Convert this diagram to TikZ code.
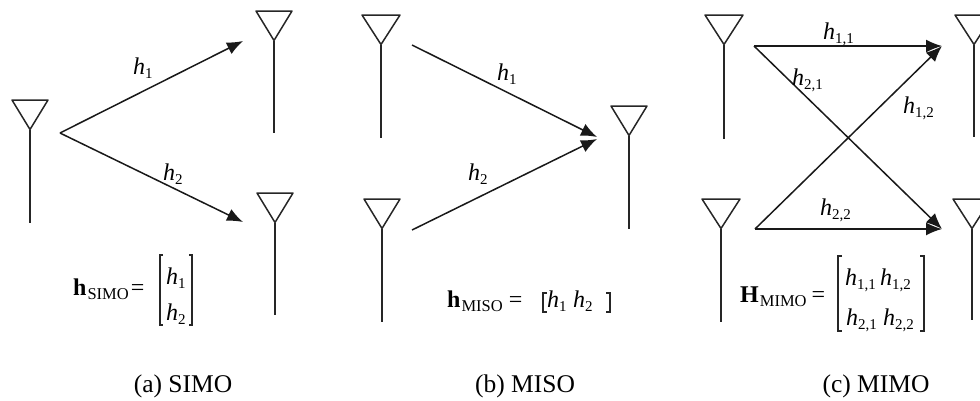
\documentclass[tikz,border=0pt]{standalone}
\usepackage{fontspec}
\setmainfont{Liberation Serif}
\usetikzlibrary{arrows.meta}
\newcommand{\ant}[5]{% name, left x, right x, top y, foot y
  \coordinate (#1l) at (#2,#4);
  \coordinate (#1r) at (#3,#4);
  \coordinate (#1a) at ({(#2+#3)/2},#4+29.5);
  \coordinate (#1f) at ({(#2+#3)/2},#5);
  \draw[antline] (#1l) -- (#1r) -- (#1a) -- cycle;
  \draw[antline] (#1a) -- (#1f);
}
\newcommand{\hh}[1]{\textit{h}\raisebox{-4pt}{\fontsize{15}{15}\selectfont #1}}
\newcommand{\subs}[1]{\raisebox{-4.5pt}{\fontsize{16.5}{16.5}\selectfont #1}}
\tikzset{
  x=1pt,y=-1pt,
  antline/.style={draw=black!85,line width=1.5pt,line join=round},
  link/.style={draw=black!90,line width=1.5pt,-{Latex[length=16pt,width=13pt]}},
  lab/.style={font=\fontsize{24}{24}\selectfont,inner sep=0pt,anchor=base west},
  captext/.style={font=\fontsize{25.5}{25.5}\selectfont,inner sep=0pt,anchor=base},
  brk/.style={draw=black!85,line width=1.1pt}
}
\begin{document}
\begin{tikzpicture}
\useasboundingbox (0,0) rectangle (980,400);
\ant{A}{12}{48}{100}{223}
\ant{B}{256}{292}{11}{133}
\ant{C}{257}{293}{193}{315}
\ant{D}{362}{400}{15}{138}
\ant{E}{364}{400}{199}{322}
\ant{F}{611}{647}{106}{229}
\ant{G}{705}{743}{15}{139}
\ant{H}{702}{740}{199}{322}
\ant{I}{955}{993}{15}{137}
\ant{J}{953}{991}{199}{320}
% SIMO
\coordinate (s0) at (60,133);
\coordinate (s1) at (243,41);
\coordinate (s2) at (243,222);
\draw[link] (s0) -- (s1);
\draw[link] (s0) -- (s2);
\node[lab] (sh1) at (133,74) {\hh{1}};
\node[lab] (sh2) at (163,180) {\hh{2}};
\node[lab] (seq) at (73,295) {\textbf{h}\kern1pt\subs{SIMO}\kern2pt=};
\node[lab] (sm1) at (166,284) {\hh{1}};
\node[lab] (sm2) at (166,320) {\hh{2}};
\draw[brk] (163,255) -- (160,255) -- (160,325) -- (163,325);
\draw[brk] (189,255) -- (192,255) -- (192,325) -- (189,325);
\node[captext] (sc) at (183,392) {(a) SIMO};
% MISO
\coordinate (m1) at (412,45);
\coordinate (m2) at (412,230);
\coordinate (mt1) at (597,137);
\coordinate (mt2) at (597,139);
\draw[link] (m1) -- (mt1);
\draw[link] (m2) -- (mt2);
\node[lab] (mh1) at (497,80) {\hh{1}};
\node[lab] (mh2) at (468,180) {\hh{2}};
\node[lab] (meq) at (447,307) {\textbf{h}\kern1pt\subs{MISO}\kern6pt=};
\node[lab] (mm1) at (547,307) {\hh{1}};
\node[lab] (mm2) at (573,307) {\hh{2}};
\draw[brk] (547,293) -- (543,293) -- (543,312) -- (547,312);
\draw[brk] (606,293) -- (610,293) -- (610,312) -- (606,312);
\node[captext] (mc) at (525,392) {(b) MISO};
% MIMO
\coordinate (x1) at (754,46);
\coordinate (x2) at (755,229);
\coordinate (xt1) at (942,46);
\coordinate (xt2) at (942,229);
\draw[link] (x1) -- (xt1);
\draw[link] (x1) -- (xt2);
\draw[link] (x2) -- (xt2);
\draw[link] (x2) -- (xt1);
\node[lab] (xh11) at (823,39) {\hh{1,1}};
\node[lab] (xh21) at (792,85) {\hh{2,1}};
\node[lab] (xh12) at (903,113) {\hh{1,2}};
\node[lab] (xh22) at (820,215) {\hh{2,2}};
\node[lab] (xeq) at (740,302) {\textbf{H}\kern1pt\subs{MIMO}\kern5pt=};
\node[lab] (xm11) at (845,285) {\hh{1,1}};
\node[lab] (xm12) at (880,285) {\hh{1,2}};
\node[lab] (xm21) at (846,325) {\hh{2,1}};
\node[lab] (xm22) at (883,325) {\hh{2,2}};
\draw[brk] (842,256) -- (838,256) -- (838,331) -- (842,331);
\draw[brk] (920,256) -- (924,256) -- (924,331) -- (920,331);
\node[captext] (xc) at (876,392) {(c) MIMO};
\end{tikzpicture}
\end{document}
